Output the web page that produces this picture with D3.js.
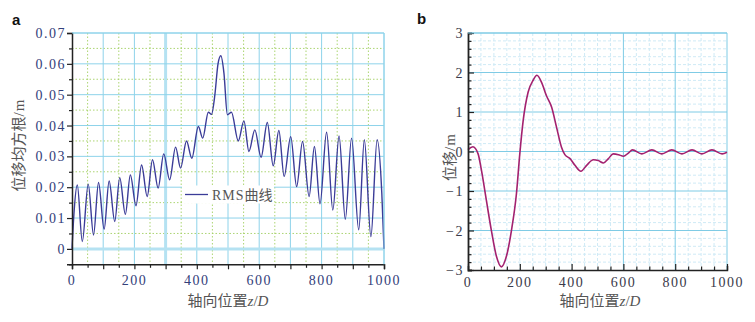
<!DOCTYPE html>
<html><head><meta charset="utf-8">
<script src="https://cdn.jsdelivr.net/npm/d3@7"></script>
<style>
body{margin:0;background:#fff;}
svg{display:block;}
.serif{font-family:"Liberation Serif","DejaVu Serif",serif;}
.cjk{font-family:"Noto Sans CJK SC",sans-serif;}
</style></head>
<body>
<svg id="chart" width="755" height="322"></svg>
<script>
// ---- Data: panel a (RMS displacement) ----
const rmsZ   = [0, 6, 17, 33, 52, 69, 85, 103, 119, 137, 153, 171, 187, 205, 223, 241, 258, 276, 294, 313, 332, 348, 367, 384, 405, 419, 437, 447, 458, 468, 477, 487, 498, 511, 533, 551, 567, 586, 606, 626, 645, 663, 680, 701, 720, 739, 760, 777, 795, 816, 836, 856, 876, 896, 919, 937, 958, 978, 993, 1000];
const rmsVal = [0, 0.011, 0.0207, 0.0024, 0.021, 0.0045, 0.0215, 0.0064, 0.022, 0.0089, 0.0231, 0.0112, 0.024, 0.014, 0.0272, 0.017, 0.0289, 0.0197, 0.0308, 0.0224, 0.033, 0.0262, 0.035, 0.0294, 0.0397, 0.0359, 0.0443, 0.0436, 0.050, 0.060, 0.0626, 0.057, 0.0435, 0.0443, 0.035, 0.0415, 0.0316, 0.0386, 0.0297, 0.041, 0.0269, 0.0384, 0.0235, 0.0364, 0.0202, 0.0348, 0.017, 0.0332, 0.0146, 0.0378, 0.0126, 0.0366, 0.0096, 0.0359, 0.0062, 0.0354, 0.004, 0.0354, 0.018, 0];

// ---- Data: panel b (displacement) ----
const dispZ   = [0, 19, 39, 52, 71, 90, 110, 129, 148, 168, 187, 200, 213, 232, 252, 266, 284, 303, 323, 342, 361, 374, 394, 413, 436, 458, 484, 503, 523, 542, 561, 581, 600, 619, 635, 671, 710, 748, 787, 826, 865, 903, 942, 981, 1000];
const dispVal = [0.05, 0.12, -0.06, -0.48, -1.24, -1.99, -2.66, -2.92, -2.66, -1.99, -1.07, -0.06, 0.78, 1.5, 1.81, 1.93, 1.75, 1.41, 1.12, 0.61, 0.11, -0.08, -0.18, -0.35, -0.5, -0.35, -0.21, -0.23, -0.29, -0.18, -0.06, -0.08, -0.12, -0.04, 0.04, -0.06, 0.04, -0.06, 0.04, -0.06, 0.04, -0.06, 0.04, -0.06, -0.02];

// ---- Tick labels ----
const xTickLabels  = [0, 200, 400, 600, 800, 1000];
const aYTickLabels = ["0", "0.01", "0.02", "0.03", "0.04", "0.05", "0.06", "0.07"];
const bYTickLabels = ["−3", "−2", "−1", "0", "1", "2", "3"];

const svg = d3.select("#chart");
const range = (a, b, s) => d3.range(a, b + s / 2, s).map(v => +v.toFixed(6));

const blue = "#8ed3ea", green = "#a3d062", lightBlue = "#cfeaf6";

// ================= Panel a =================
(function(){
  const L = 72, R = 384, T = 33, B = 264.3;
  const x = d3.scaleLinear().domain([0, 1000]).range([L, R]);
  const y = d3.scaleLinear().domain([-0.005, 0.07]).range([B, T]);
  const g = svg.append("g");

  g.selectAll(".gvx").data(range(50, 950, 100)).join("line")
    .attr("x1", d => x(d)).attr("x2", d => x(d)).attr("y1", T).attr("y2", B)
    .attr("stroke", green).attr("stroke-width", 0.9).attr("stroke-dasharray", "1.5,2");
  g.selectAll(".gvy").data(range(0.005, 0.065, 0.01)).join("line")
    .attr("x1", L).attr("x2", R).attr("y1", d => y(d)).attr("y2", d => y(d))
    .attr("stroke", green).attr("stroke-width", 0.9).attr("stroke-dasharray", "1.5,2");
  g.selectAll(".bvx").data(range(100, 1000, 100)).join("line")
    .attr("x1", d => x(d)).attr("x2", d => x(d)).attr("y1", T).attr("y2", B)
    .attr("stroke", d => d === 300 ? "#b5e2f2" : blue).attr("stroke-width", d => d === 300 ? 3 : 1);
  g.selectAll(".bvy").data(range(0, 0.07, 0.01)).join("line")
    .attr("x1", L).attr("x2", R).attr("y1", d => y(d)).attr("y2", d => y(d))
    .attr("stroke", d => d === 0 ? "#b5e2f2" : blue).attr("stroke-width", d => d === 0 ? 3 : 1);

  g.append("rect").attr("x", 182).attr("y", 185.5).attr("width", 92).attr("height", 18).attr("fill", "#fff");

  const line = d3.line().x((d, i) => x(rmsZ[i])).y(d => y(d)).curve(d3.curveMonotoneX);
  g.append("path").datum(rmsVal).attr("d", line).attr("fill", "none")
    .attr("stroke", "#3b3c98").attr("stroke-width", 1.4);

  const xAxis = d3.axisBottom(x).tickValues(range(0, 1000, 50)).tickSize(5).tickFormat("");
  const ax = g.append("g").attr("transform", `translate(0,${B})`).call(xAxis);
  ax.select(".domain").attr("stroke", "#222").attr("stroke-width", 1.5);
  ax.selectAll(".tick line").attr("stroke", "#222").attr("stroke-width", 1.2)
    .attr("y2", d => d % 100 === 0 ? 5 : 3.5);
  g.selectAll(".xl").data(xTickLabels).join("text").attr("class", "serif")
    .attr("x", d => x(d)).attr("y", 285).attr("text-anchor", "middle")
    .attr("font-size", 14).attr("letter-spacing", 1.5).attr("fill", "#33407a").text(d => d);

  const yAxis = d3.axisLeft(y).tickValues(range(-0.005, 0.07, 0.005)).tickSize(5).tickFormat("");
  const ay = g.append("g").attr("transform", `translate(${L},0)`).call(yAxis);
  ay.select(".domain").attr("stroke", "#222").attr("stroke-width", 1.5);
  ay.selectAll(".tick line").attr("stroke", "#222").attr("stroke-width", 1.2)
    .attr("x2", (d, i) => i % 2 === 1 ? -5 : -3);
  g.selectAll(".yl").data(aYTickLabels).join("text").attr("class", "serif")
    .attr("x", 66).attr("y", (d, i) => y(i * 0.01) + 5).attr("text-anchor", "end")
    .attr("font-size", 14).attr("letter-spacing", 1.5).attr("fill", "#33407a").text(d => d);

  g.append("line").attr("x1", L).attr("x2", R).attr("y1", T).attr("y2", T).attr("stroke", blue);
  g.append("line").attr("x1", R).attr("x2", R).attr("y1", T).attr("y2", B).attr("stroke", blue);

  g.append("line").attr("x1", 185).attr("x2", 208).attr("y1", 194.5).attr("y2", 194.5)
    .attr("stroke", "#3b3c98").attr("stroke-width", 1.3);
  const lt = g.append("text").attr("x", 212).attr("y", 200).attr("font-size", 14).attr("fill", "#555");
  lt.append("tspan").attr("class", "serif").attr("letter-spacing", 1).text("RMS");
  lt.append("tspan").attr("class", "cjk").text("曲线");

  const xt = g.append("text").attr("x", 228).attr("y", 306).attr("text-anchor", "middle")
    .attr("font-size", 15).attr("fill", "#555");
  xt.append("tspan").attr("class", "cjk").text("轴向位置");
  xt.append("tspan").attr("class", "serif").attr("font-style", "italic").text("z");
  xt.append("tspan").attr("class", "serif").text("/");
  xt.append("tspan").attr("class", "serif").attr("font-style", "italic").text("D");

  const yt = g.append("text").attr("transform", "translate(24,145) rotate(-90)").attr("text-anchor", "middle")
    .attr("font-size", 15).attr("fill", "#555");
  yt.append("tspan").attr("class", "cjk").text("位移均方根");
  yt.append("tspan").attr("class", "serif").attr("letter-spacing", 1).text("/m");

  svg.append("text").attr("x", 12).attr("y", 25).attr("font-family", "Liberation Sans, Arial, sans-serif")
    .attr("font-weight", "bold").attr("font-size", 15).attr("fill", "#111").text("a");
})();

// ================= Panel b =================
(function(){
  const L = 468, R = 727, T = 33, B = 270;
  const x = d3.scaleLinear().domain([0, 1000]).range([L, R]);
  const y = d3.scaleLinear().domain([-3, 3]).range([B, T]);
  const g = svg.append("g");

  const solidX = [600, 800, 1000];
  g.selectAll(".mvx").data(range(50, 950, 50).filter(d => !solidX.includes(d))).join("line")
    .attr("x1", d => x(d)).attr("x2", d => x(d)).attr("y1", T).attr("y2", B)
    .attr("stroke", lightBlue).attr("stroke-width", 1).attr("stroke-dasharray", "3,2");
  g.selectAll(".mvy").data(range(-2.8, 2.8, 0.2).filter(d => Math.abs(d - Math.round(d)) > 1e-6)).join("line")
    .attr("x1", L).attr("x2", R).attr("y1", d => y(d)).attr("y2", d => y(d))
    .attr("stroke", lightBlue).attr("stroke-width", 1).attr("stroke-dasharray", "3,2");
  g.selectAll(".Mvx").data(solidX).join("line")
    .attr("x1", d => x(d)).attr("x2", d => x(d)).attr("y1", T).attr("y2", B)
    .attr("stroke", "#7fcbe5").attr("stroke-width", 1);
  g.selectAll(".Mvy").data(range(-2, 3, 1)).join("line")
    .attr("x1", L).attr("x2", R).attr("y1", d => y(d)).attr("y2", d => y(d))
    .attr("stroke", "#7fcbe5").attr("stroke-width", 1);

  const line = d3.line().x((d, i) => x(dispZ[i])).y(d => y(d)).curve(d3.curveMonotoneX);
  g.append("path").datum(dispVal).attr("d", line).attr("fill", "none")
    .attr("stroke", "#a3216f").attr("stroke-width", 1.6);

  const xAxis = d3.axisBottom(x).tickValues(range(0, 1000, 50)).tickSize(-4).tickFormat("");
  const ax = g.append("g").attr("transform", `translate(0,${B})`).call(xAxis);
  ax.select(".domain").attr("stroke", "#222").attr("stroke-width", 1.5);
  ax.selectAll(".tick line").attr("stroke", "#222").attr("stroke-width", 1.2)
    .attr("y2", d => d % 200 === 0 ? -6 : -3.5);
  g.selectAll(".xl").data(xTickLabels).join("text").attr("class", "serif")
    .attr("x", d => x(d)).attr("y", 287).attr("text-anchor", "middle")
    .attr("font-size", 14).attr("letter-spacing", 1.5).attr("fill", "#3a3a4a").text(d => d);

  const yAxis = d3.axisLeft(y).tickValues(range(-3, 3, 0.2)).tickSize(-4).tickFormat("");
  const ay = g.append("g").attr("transform", `translate(${L},0)`).call(yAxis);
  ay.select(".domain").attr("stroke", "#222").attr("stroke-width", 1.8);
  ay.selectAll(".tick line").attr("stroke", "#222").attr("stroke-width", 1.2)
    .attr("x2", d => Math.abs(d - Math.round(d)) < 1e-6 ? 6 : 3.5);
  g.selectAll(".yl").data(bYTickLabels).join("text").attr("class", "serif")
    .attr("x", 464).attr("y", (d, i) => y(i - 3) + 5).attr("text-anchor", "end")
    .attr("font-size", 14).attr("letter-spacing", 1.5).attr("fill", "#3a3a4a").text(d => d);

  g.append("line").attr("x1", L).attr("x2", R).attr("y1", T).attr("y2", T).attr("stroke", "#7fcbe5");

  const xt = g.append("text").attr("x", 600).attr("y", 306).attr("text-anchor", "middle")
    .attr("font-size", 15).attr("fill", "#555");
  xt.append("tspan").attr("class", "cjk").text("轴向位置");
  xt.append("tspan").attr("class", "serif").attr("font-style", "italic").text("z");
  xt.append("tspan").attr("class", "serif").text("/");
  xt.append("tspan").attr("class", "serif").attr("font-style", "italic").text("D");

  const yt = g.append("text").attr("transform", "translate(455,157) rotate(-90)").attr("text-anchor", "middle")
    .attr("font-size", 15).attr("fill", "#555");
  yt.append("tspan").attr("class", "cjk").text("位移");
  yt.append("tspan").attr("class", "serif").attr("letter-spacing", 1).text("/m");

  svg.append("text").attr("x", 417).attr("y", 24).attr("font-family", "Liberation Sans, Arial, sans-serif")
    .attr("font-weight", "bold").attr("font-size", 15).attr("fill", "#111").text("b");
})();
</script>
</body></html>
